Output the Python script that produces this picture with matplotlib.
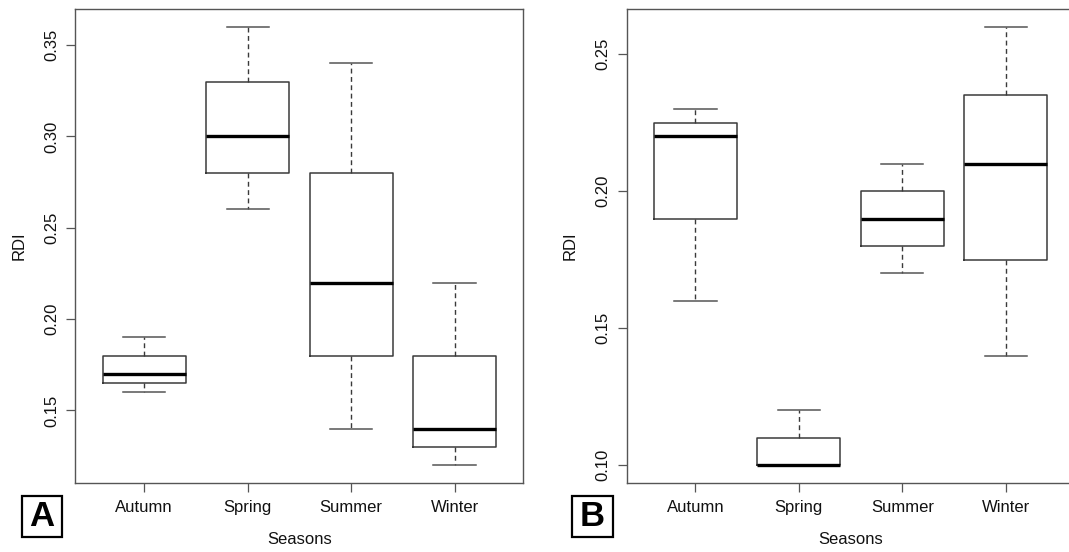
import matplotlib.pyplot as plt
from matplotlib.patches import Rectangle

plt.rcParams['font.family'] = ['Liberation Sans', 'DejaVu Sans']

seasons = ['Autumn', 'Spring', 'Summer', 'Winter']

# panel A: whisker low, Q1, median, Q3, whisker high
a_low = [0.16, 0.26, 0.14, 0.12]
a_q1 = [0.165, 0.28, 0.18, 0.13]
a_med = [0.17, 0.30, 0.22, 0.14]
a_q3 = [0.18, 0.33, 0.28, 0.18]
a_high = [0.19, 0.36, 0.34, 0.22]
a_ticks = [0.15, 0.20, 0.25, 0.30, 0.35]

# panel B
b_low = [0.16, 0.10, 0.17, 0.14]
b_q1 = [0.19, 0.10, 0.18, 0.175]
b_med = [0.22, 0.10, 0.19, 0.21]
b_q3 = [0.225, 0.11, 0.20, 0.235]
b_high = [0.23, 0.12, 0.21, 0.26]
b_ticks = [0.10, 0.15, 0.20, 0.25]

line_col = '#3a3a3a'
frame_col = '#555555'


def make_stats(low, q1, med, q3, high):
    stats = []
    for i in range(len(seasons)):
        stats.append({'label': seasons[i], 'whislo': low[i], 'q1': q1[i],
                      'med': med[i], 'q3': q3[i], 'whishi': high[i], 'fliers': []})
    return stats


def draw_panel(ax, stats, ticks):
    ax.bxp(stats, positions=[1, 2, 3, 4], widths=0.8, capwidths=0.41,
           showfliers=False, patch_artist=False,
           boxprops=dict(color=line_col, linewidth=1.1),
           whiskerprops=dict(color=line_col, linewidth=1.0, linestyle=(0, (3.5, 2.5))),
           capprops=dict(color='#555555', linewidth=1.1),
           medianprops=dict(color='black', linewidth=2.4, solid_capstyle='butt'))
    lo = min(s['whislo'] for s in stats)
    hi = max(s['whishi'] for s in stats)
    ext = (hi - lo) * 0.04
    ax.set_ylim(lo - ext, hi + ext)
    ax.set_xlim(0.335, 4.665)
    ax.set_yticks(ticks)
    ax.set_yticklabels(['%.2f' % t for t in ticks], rotation=90, va='center')
    ax.set_xticks([1, 2, 3, 4])
    ax.set_xticklabels(seasons)
    ax.tick_params(axis='both', labelsize=12, length=6.5, width=0.9,
                   color=frame_col, labelcolor='#111111')
    ax.tick_params(axis='y', pad=5)
    ax.tick_params(axis='x', pad=6)
    for sp in ax.spines.values():
        sp.set_color(frame_col)
        sp.set_linewidth(1.0)
    ax.set_xlabel('Seasons', fontsize=12, labelpad=12, color='#111111')
    ax.set_ylabel('RDI', fontsize=12, labelpad=13, color='#111111')


fig = plt.figure(figsize=(10.69, 5.52), dpi=100)
ax1 = fig.add_axes([0.0706, 0.1255, 0.4191, 0.8577])
ax2 = fig.add_axes([0.5861, 0.1255, 0.4191, 0.8577])

draw_panel(ax1, make_stats(a_low, a_q1, a_med, a_q3, a_high), a_ticks)
draw_panel(ax2, make_stats(b_low, b_q1, b_med, b_q3, b_high), b_ticks)

for x0, letter in [(0.0203, 'A'), (0.5354, 'B')]:
    fig.patches.append(Rectangle((x0, 0.0277), 0.038, 0.0743, transform=fig.transFigure,
                                 fill=False, edgecolor='black', linewidth=1.6))
    fig.text(x0 + 0.019, 0.0277 + 0.0371, letter, fontsize=25, fontweight='bold',
             ha='center', va='center')

fig.savefig('out.png', dpi=100)
